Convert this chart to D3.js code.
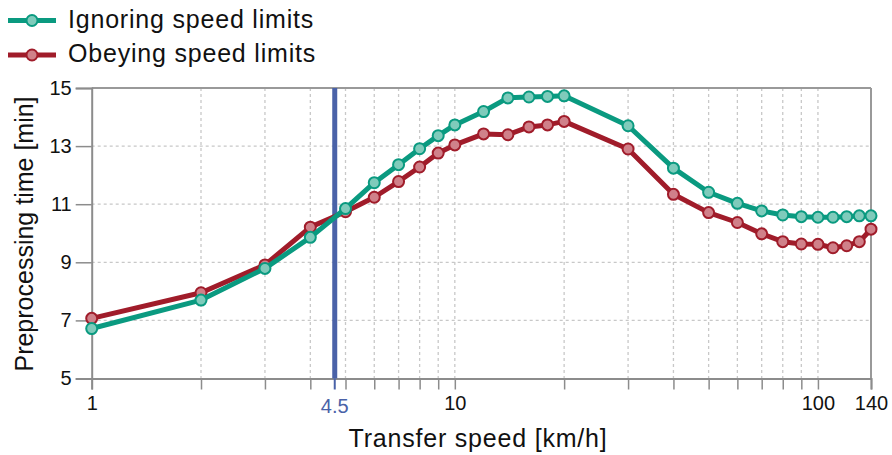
<!DOCTYPE html>
<html><head><meta charset="utf-8">
<script src="https://cdn.jsdelivr.net/npm/d3@7"></script>
<style>
body{margin:0;background:#fff;}
text{font-family:"Liberation Sans",Arial,sans-serif;}
</style></head>
<body><svg id="c" width="892" height="455"></svg>
<script>
const speeds = [1,2,3,4,5,6,7,8,9,10,12,14,16,18,20,30,40,50,60,70,80,90,100,110,120,130,140];
const ignoring = [6.72,7.70,8.79,9.86,10.85,11.74,12.36,12.91,13.36,13.73,14.19,14.66,14.69,14.71,14.73,13.70,12.24,11.41,11.03,10.77,10.63,10.57,10.55,10.55,10.57,10.60,10.60];
const obeying  = [7.07,7.95,8.91,10.21,10.74,11.24,11.78,12.28,12.76,13.04,13.42,13.39,13.66,13.73,13.85,12.90,11.34,10.71,10.37,9.98,9.71,9.63,9.62,9.50,9.57,9.71,10.14];
const seriesNames = ["Ignoring speed limits","Obeying speed limits"];
const xMinorTicks = [2,3,4,5,6,7,8,9,20,30,40,50,60,70,80,90];
const xLabelTicks = [1,10,100,140];
const yTicks = [5,7,9,11,13,15];
const markerValue = 4.67, markerLabel = "4.5";

const svg = d3.select("#c");
const L=91.7, R=871, T=88, B=378.5;
const x = d3.scaleLog().domain([1,140]).range([L,R]);
const y = d3.scaleLinear().domain([5,15]).range([B,T]);
const gray="#8c8c8c";

// grid
const g = svg.append("g");
g.selectAll(".vg").data(xMinorTicks.concat([10,100])).join("line")
  .attr("x1",d=>x(d)).attr("x2",d=>x(d)).attr("y1",T).attr("y2",B)
  .attr("stroke","#c8c8c8").attr("stroke-width",1.3).attr("stroke-dasharray","3,3");
g.selectAll(".hg").data(yTicks.slice(1,-1)).join("line")
  .attr("x1",L).attr("x2",R).attr("y1",d=>y(d)).attr("y2",d=>y(d))
  .attr("stroke","#c8c8c8").attr("stroke-width",1.3).attr("stroke-dasharray","3,3");

// frame top/right
svg.append("line").attr("x1",L).attr("x2",R).attr("y1",T).attr("y2",T).attr("stroke","#999").attr("stroke-width",2);
svg.append("line").attr("x1",R).attr("x2",R).attr("y1",T).attr("y2",B).attr("stroke","#999").attr("stroke-width",2);

// axes
const xAxis = d3.axisBottom(x).tickValues([1].concat(xMinorTicks,[10,100,140])).tickSize(11)
  .tickFormat(d=>xLabelTicks.includes(d)?String(d):"");
const ax = svg.append("g").attr("transform",`translate(0,${B})`).call(xAxis);
ax.select(".domain").attr("stroke",gray).attr("stroke-width",2);
ax.selectAll(".tick line").attr("stroke",gray).attr("stroke-width",1.5);
ax.selectAll(".tick text").attr("fill","#111").attr("font-size",20).attr("dy","0.85em")
  .attr("font-family","Liberation Sans, Arial, sans-serif");

const yAxis = d3.axisLeft(y).tickValues(yTicks).tickSize(16).tickFormat(d3.format("d"));
const ay = svg.append("g").attr("transform",`translate(${L},0)`).call(yAxis);
ay.select(".domain").attr("stroke",gray).attr("stroke-width",2);
ay.selectAll(".tick line").attr("stroke",gray).attr("stroke-width",1.5);
ay.selectAll(".tick text").attr("fill","#111").attr("font-size",20).attr("dx","-0.05em")
  .attr("font-family","Liberation Sans, Arial, sans-serif");

// marker line
const blue="#4a62a8";
svg.append("line").attr("x1",x(markerValue)).attr("x2",x(markerValue)).attr("y1",T).attr("y2",B)
  .attr("stroke",blue).attr("stroke-width",5);
svg.append("line").attr("x1",x(markerValue)).attr("x2",x(markerValue)).attr("y1",B).attr("y2",B+11)
  .attr("stroke",blue).attr("stroke-width",2);
svg.append("text").attr("x",x(markerValue)).attr("y",B+34).attr("text-anchor","middle")
  .attr("font-size",20).attr("fill",blue).text(markerLabel);

// series
const series = [
  {name:seriesNames[0], vals:ignoring, stroke:"#0a9a80", fill:"#7fcbbb"},
  {name:seriesNames[1], vals:obeying, stroke:"#a01c2a", fill:"#d0818a"}
];
const line = d3.line().x(d=>x(d[0])).y(d=>y(d[1]));
[series[1],series[0]].forEach(s=>{
  const pts = speeds.map((v,i)=>[v,s.vals[i]]);
  svg.append("path").datum(pts).attr("d",line).attr("fill","none")
    .attr("stroke",s.stroke).attr("stroke-width",5).attr("stroke-linejoin","round");
  svg.append("g").selectAll("circle").data(pts).join("circle")
    .attr("cx",d=>x(d[0])).attr("cy",d=>y(d[1])).attr("r",5.5)
    .attr("fill",s.fill).attr("stroke",s.stroke).attr("stroke-width",2);
});

// legend
series.forEach((s,i)=>{
  const ly = 20.5 + i*34.5;
  svg.append("line").attr("x1",8).attr("x2",56).attr("y1",ly).attr("y2",ly)
    .attr("stroke",s.stroke).attr("stroke-width",5);
  svg.append("circle").attr("cx",32).attr("cy",ly).attr("r",5.5)
    .attr("fill",s.fill).attr("stroke",s.stroke).attr("stroke-width",2);
  svg.append("text").attr("x",68).attr("y",ly+7).attr("font-size",25).attr("letter-spacing",0.8)
    .attr("fill","#111").text(s.name);
});

// axis titles
svg.append("text").attr("x",478).attr("y",447).attr("text-anchor","middle")
  .attr("font-size",25).attr("letter-spacing",0.8).attr("fill","#111").text("Transfer speed [km/h]");
svg.append("text").attr("transform",`translate(33,234) rotate(-90)`).attr("text-anchor","middle")
  .attr("font-size",25).attr("fill","#111").text("Preprocessing time [min]");
</script></body></html>
